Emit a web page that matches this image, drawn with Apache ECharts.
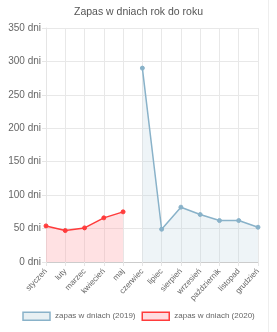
<!DOCTYPE html>
<html><head><meta charset="utf-8">
<script src="https://cdn.jsdelivr.net/npm/echarts@6/dist/echarts.min.js"></script>
<style>html,body{margin:0;padding:0;background:#fff}#c{width:277px;height:332px}</style>
</head><body><div id="c"></div>
<script>
const categories = ['styczeń','luty','marzec','kwiecień','maj','czerwiec','lipiec','sierpień','wrzesień','październik','listopad','grudzień'];
const values2019 = [null,null,null,null,null,290,49,82,71,62,62,52];
const values2020 = [54,47,51,66,75,null,null,null,null,null,null,null];
const yTicks = [0,50,100,150,200,250,300,350];
const seriesNames = ['zapas w dniach (2019)','zapas w dniach (2020)'];

const chart = echarts.init(document.getElementById('c'), null, {renderer:'canvas'});
chart.setOption({
  animation:false,
  graphic:[{type:'line',shape:{x1:268.5,y1:0,x2:268.5,y2:332},style:{stroke:'#eeeeee',lineWidth:1},silent:true}],
  title:{text:'Zapas w dniach rok do roku',left:'center',top:2,
    textStyle:{fontFamily:'Liberation Sans, Arial',fontSize:10.5,fontWeight:'normal',color:'#555'}},
  legend:{bottom:6,left:'center',itemWidth:27,itemHeight:8,itemGap:6,
    textStyle:{fontFamily:'Liberation Sans, Arial',fontSize:8,color:'#666'},
    data:[
      {name:seriesNames[0],icon:'rect',itemStyle:{color:'#e8f0f3',borderColor:'#89b2c9',borderWidth:1.5}},
      {name:seriesNames[1],icon:'rect',itemStyle:{color:'#ffdde0',borderColor:'#ff3b3b',borderWidth:1.5}}
    ]},
  grid:{left:46,right:19,top:28,bottom:70,containLabel:false},
  xAxis:{type:'category',data:categories,boundaryGap:false,
    axisLine:{lineStyle:{color:'#cccccc'}},
    axisTick:{show:true,length:4,lineStyle:{color:'#e5e5e5'}},
    splitLine:{show:true,lineStyle:{color:'#e8e8e8'}},
    axisLabel:{rotate:47,interval:0,hideOverlap:false,fontSize:8,color:'#666',fontFamily:'Liberation Sans, Arial',margin:8}},
  yAxis:{type:'value',min:0,max:350,interval:50,
    axisLine:{show:true,lineStyle:{color:'#e5e5e5'}},
    axisTick:{show:true,length:4,lineStyle:{color:'#e5e5e5'}},
    splitLine:{lineStyle:{color:'#e8e8e8'}},
    axisLabel:{formatter:v=>yTicks.includes(v)?v+' dni':'',fontSize:10,color:'#666',fontFamily:'Liberation Sans, Arial',margin:5}},
  series:[
    {name:seriesNames[0],type:'line',data:values2019,symbol:'circle',symbolSize:4,
      itemStyle:{color:'#89b2c9',borderColor:'#89b2c9'},
      lineStyle:{color:'#89b2c9',width:1.5},
      areaStyle:{color:'rgba(175,205,218,0.3)',origin:'start'}},
    {name:seriesNames[1],type:'line',data:values2020,symbol:'circle',symbolSize:4,
      itemStyle:{color:'#ff3b3b',borderColor:'#ff3b3b'},
      lineStyle:{color:'#ff3b3b',width:1.5},
      areaStyle:{color:'rgba(255,160,168,0.45)',origin:'start'}}
  ]
});
</script></body></html>
